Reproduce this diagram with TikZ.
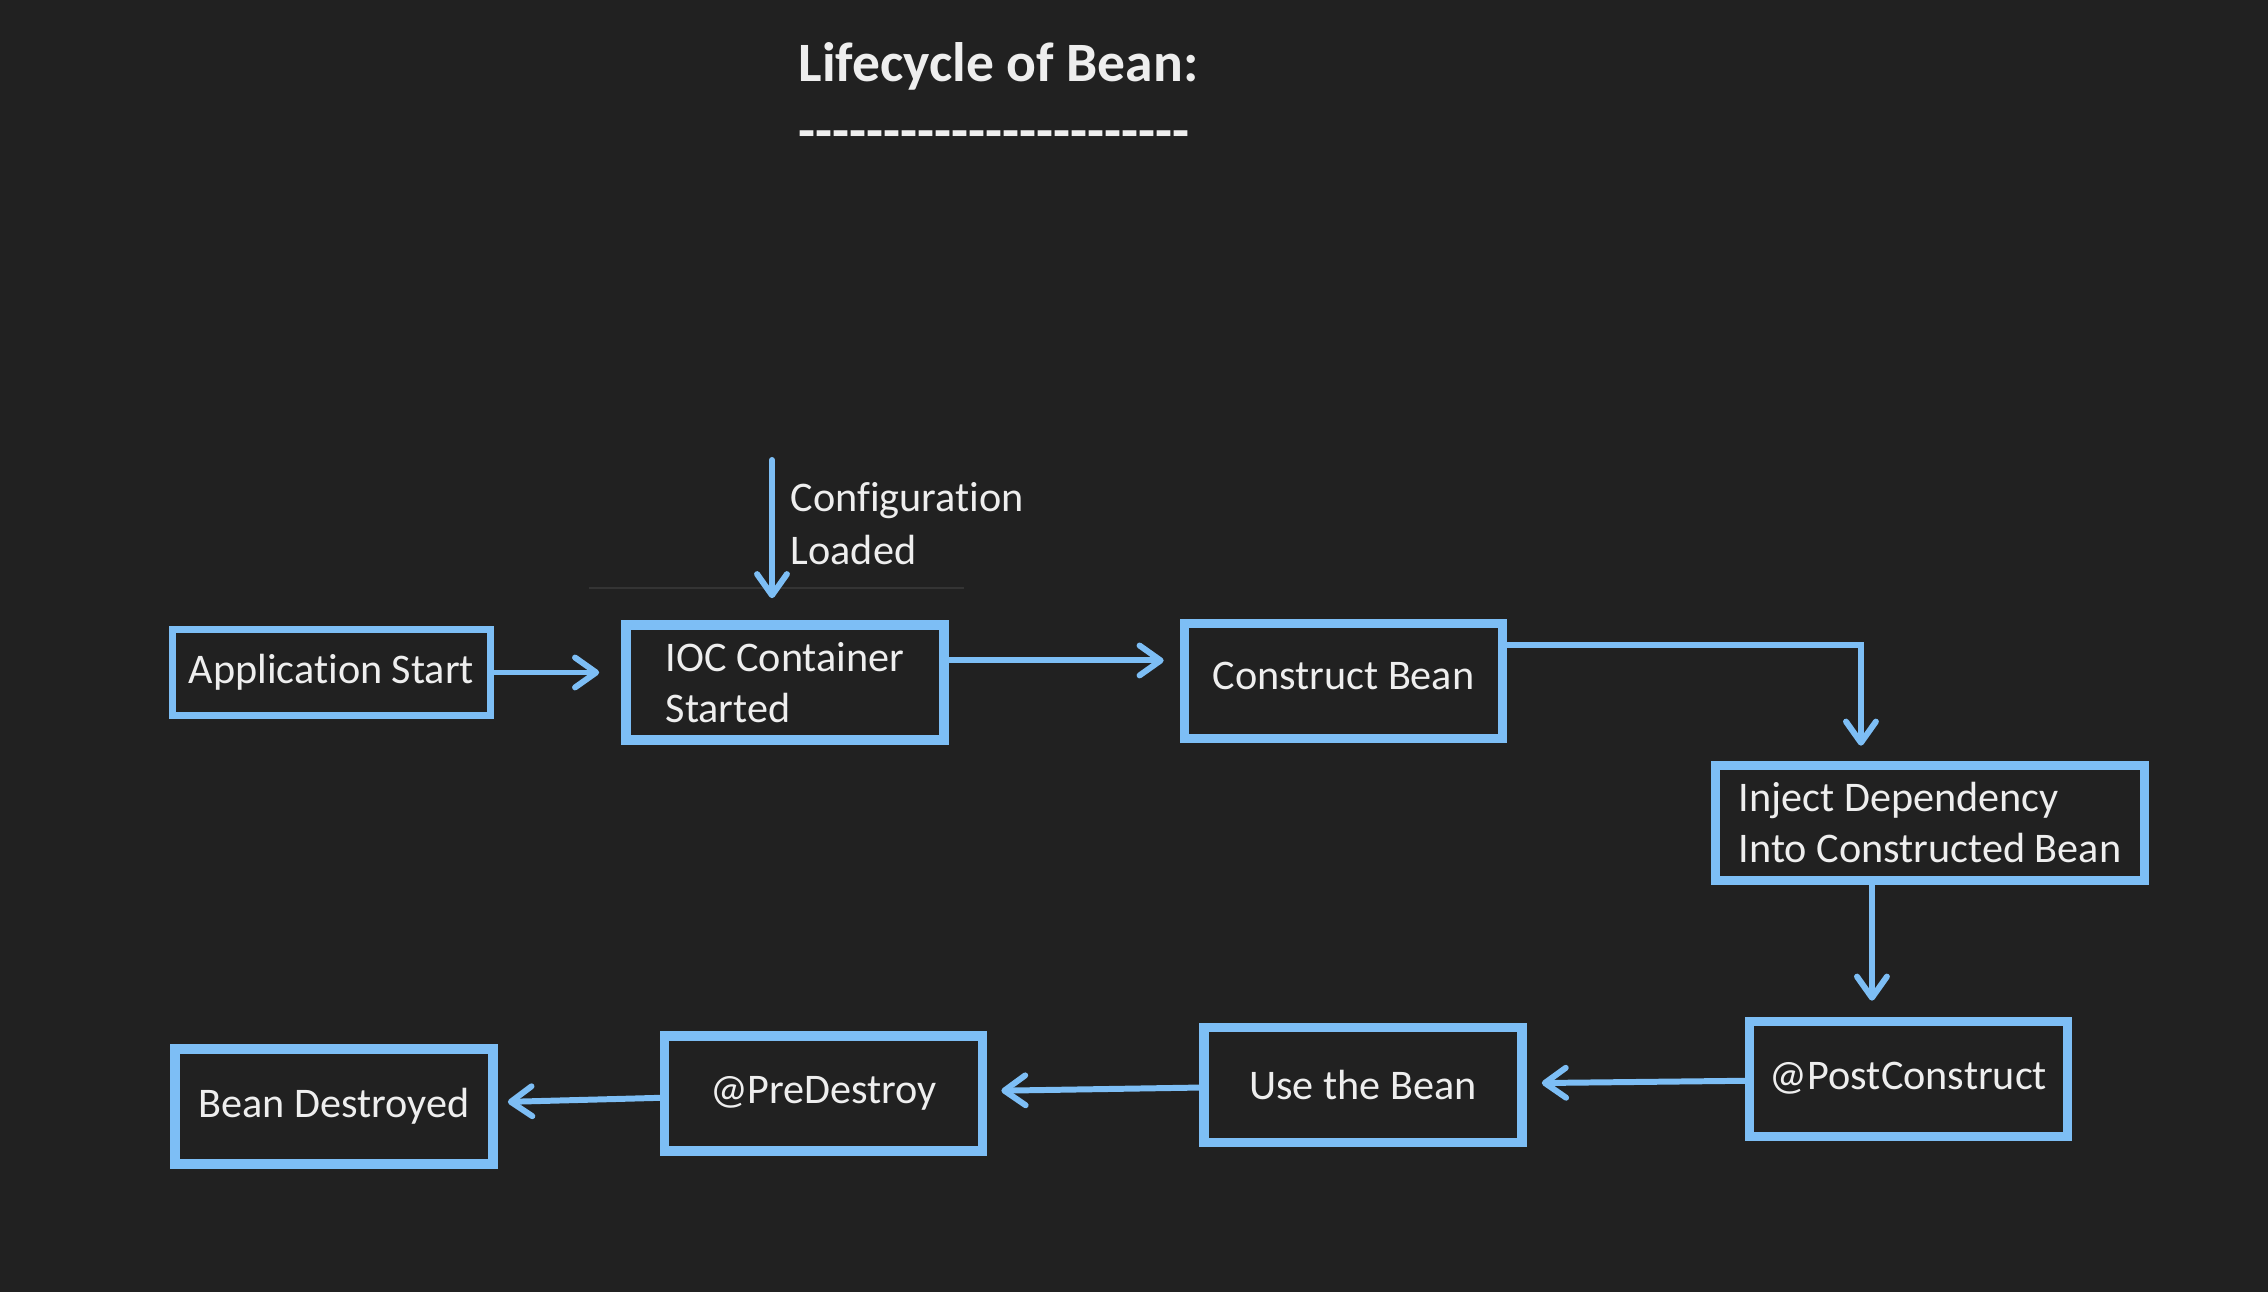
\documentclass[tikz,border=0pt]{standalone}
\usepackage{fontspec}
\setmainfont{Carlito}[Ligatures={TeX,NoCommon}]
\usetikzlibrary{arrows.meta,positioning,calc}
\definecolor{bg}{RGB}{33,33,33}
\definecolor{beanblue}{RGB}{125,190,245}
\definecolor{txt}{RGB}{238,238,238}
\definecolor{faint}{RGB}{52,52,52}
\newcommand\dashrule{\foreach\k in {1,...,23}{-\kern0pt}}

\begin{document}
\begin{tikzpicture}[x=0.01cm,y=-0.01cm,>={Straight Barb[length=6pt,width=8.5pt,round]},
  box/.style={draw=beanblue,line width=2.7pt,text=txt,minimum width=3.18cm,minimum height=1.15cm,align=left,font=\fontsize{12}{14.5}\selectfont},
  conn/.style={->,draw=beanblue,line width=1.7pt,line cap=round},
  lbl/.style={text=txt,inner sep=0pt}]
\fill[bg] (0,0) rectangle (2268,1292);
\useasboundingbox (0,0) rectangle (2268,1292);
% title
\node[lbl,anchor=base west,font=\fontsize{15.8}{18}\selectfont\bfseries] (title) at (798,82) {Lifecycle of Bean:};
\node[lbl,anchor=base west,font=\fontsize{15.8}{18}\selectfont\bfseries] (rule) at (798,150) {\dashrule};
% boxes
\node[box,minimum height=0.86cm,line width=1.9pt] (start) at (331.5,672.5) {Application Start};
\node[box] (ioc) at (785,682.5) {IOC Container\\Started};
\node[box] (construct) at (1343.5,681) {\raisebox{0.1cm}{Construct Bean}};
\node[box,minimum width=4.29cm] (inject) at (1930,823) {Inject Dependency\\Into Constructed Bean};
\node[box] (post) at (1908.5,1079) {\raisebox{0.06cm}{@PostConstruct}};
\node[box] (use) at (1363,1085) {Use the Bean};
\node[box] (pre) at (823.5,1093.5) {@PreDestroy};
\node[box] (destroyed) at (334,1106.5) {Bean Destroyed};
% configuration input
\coordinate (cfgtop) at (772,460);
\node[lbl,anchor=west,align=left,font=\fontsize{12}{15}\selectfont] (cfg) at (790,524) {Configuration\\Loaded};
\draw[faint,line width=0.6pt] (589,588) -- (964,588);
% connectors
\draw[conn,shorten >=0.22cm] (cfgtop) -- (cfgtop |- ioc.north);
\draw[conn,shorten >=0.22cm] (start) -- (start -| ioc.west);
\draw[conn,shorten >=0.16cm] ([yshift=0.22cm]ioc.east) -- ([yshift=0.22cm]ioc.east -| construct.west);
\draw[conn,shorten >=0.15cm] ([yshift=0.36cm]construct.east) -| ([xshift=-0.69cm]inject.north);
\draw[conn,shorten >=0.16cm] ([xshift=-0.58cm]inject.south) -- ([xshift=-0.58cm]inject.south |- post.north);
\draw[conn,shorten >=0.15cm] (post) -- (use);
\draw[conn,shorten >=0.14cm] (use) -- (pre);
\draw[conn,shorten >=0.1cm] (pre) -- (destroyed);
\end{tikzpicture}
\end{document}
